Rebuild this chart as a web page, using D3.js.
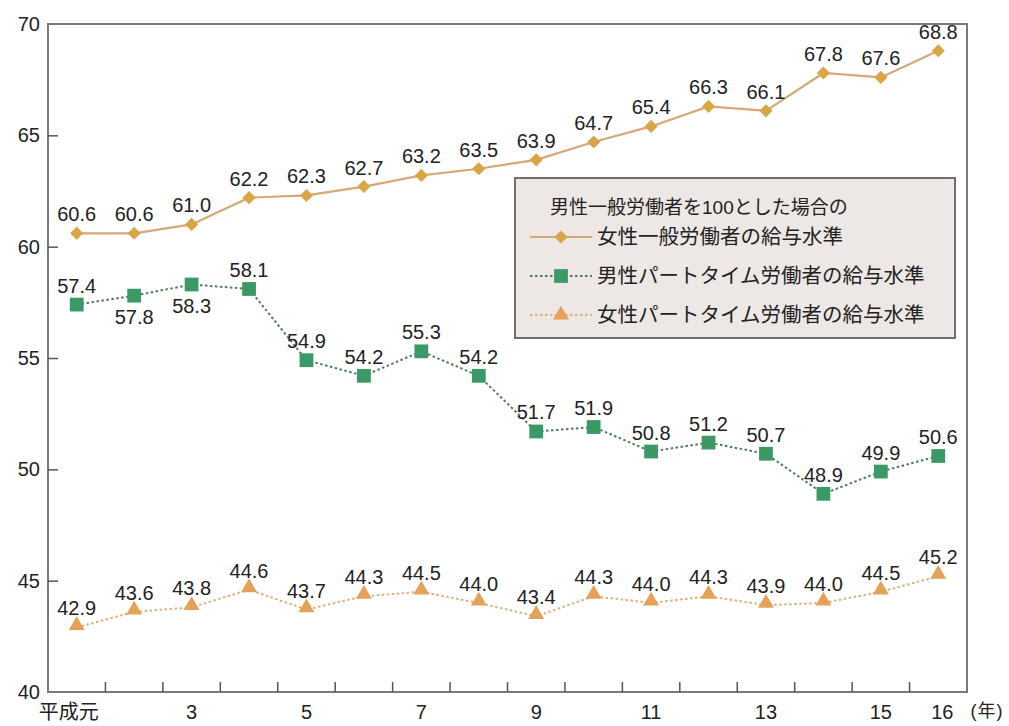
<!DOCTYPE html>
<html><head><meta charset="utf-8">
<script src="https://cdn.jsdelivr.net/npm/d3@7"></script>
<style>
body{margin:0;background:#fff;}
text{font-family:"Liberation Sans","Noto Sans CJK JP",sans-serif;fill:#222;}
</style></head>
<body>
<svg id="c" width="1009" height="726"></svg>
<script>
const categories = ["1","2","3","4","5","6","7","8","9","10","11","12","13","14","15","16"];
const xTickLabels = ["平成元","","3","","5","","7","","9","","11","","13","","15","16"];
const yTicks = [40,45,50,55,60,65,70];
const femaleGeneral = [60.6,60.6,61.0,62.2,62.3,62.7,63.2,63.5,63.9,64.7,65.4,66.3,66.1,67.8,67.6,68.8];
const malePart = [57.4,57.8,58.3,58.1,54.9,54.2,55.3,54.2,51.7,51.9,50.8,51.2,50.7,48.9,49.9,50.6];
const femalePart = [42.9,43.6,43.8,44.6,43.7,44.3,44.5,44.0,43.4,44.3,44.0,44.3,43.9,44.0,44.5,45.2];
const legendTitle = "男性一般労働者を100とした場合の";
const seriesNames = ["女性一般労働者の給与水準","男性パートタイム労働者の給与水準","女性パートタイム労働者の給与水準"];

const svg = d3.select("#c");
const L=48, R=967, T=24, B=692;
const x = d3.scaleBand().domain(categories).range([L,R]);
const y = d3.scaleLinear().domain([40,70]).range([B,T]);
const cx = c => x(c)+x.bandwidth()/2;

// frame
svg.append("rect").attr("x",L).attr("y",T).attr("width",R-L).attr("height",B-T)
  .attr("fill","none").attr("stroke","#7a7a7a").attr("stroke-width",2);

// y axis
const ya = svg.append("g").attr("transform",`translate(${L},0)`)
  .call(d3.axisRight(y).tickValues(yTicks).tickSize(10).tickFormat(""));
ya.select(".domain").remove();
ya.selectAll("line").attr("stroke","#555").attr("stroke-width",1.5);
ya.selectAll("g.tick").filter(d=>d===40||d===70).select("line").remove();
svg.append("g").selectAll("text").data(yTicks).join("text")
  .attr("x",L-8).attr("y",d=>y(d)+7).attr("text-anchor","end")
  .attr("font-size",20).text(d=>d);

// x axis ticks at band boundaries
const xa = svg.append("g").attr("transform",`translate(0,${B})`)
  .call(d3.axisTop(x).tickSize(10).tickFormat("").offset(0));
xa.select(".domain").remove();
xa.selectAll("g.tick").attr("transform",d=>`translate(${x(d)+x.bandwidth()},0)`);
xa.selectAll("g.tick").filter((d,i)=>i===categories.length-1).remove();
xa.selectAll("line").attr("stroke","#555").attr("stroke-width",1.5);
svg.append("g").selectAll("text").data(categories).join("text")
  .attr("x",(d,i)=>cx(d)+(i===0?-8:(i===15?4:0))).attr("y",B+27).attr("text-anchor","middle")
  .attr("font-size",20).text((d,i)=>xTickLabels[i]);
svg.append("text").attr("x",987).attr("y",B+25).attr("text-anchor","middle")
  .attr("font-size",18).attr("letter-spacing",1).text("(年)");

const line = d3.line().x((d,i)=>cx(categories[i])).y(d=>y(d));

// female general
svg.append("path").datum(femaleGeneral).attr("d",line).attr("fill","none")
  .attr("stroke","#d6a877").attr("stroke-width",2.2);
// male part
svg.append("path").datum(malePart).attr("d",line).attr("fill","none")
  .attr("stroke","#4f7a62").attr("stroke-width",2).attr("stroke-dasharray","2.5,2.5");
// female part
svg.append("path").datum(femalePart).attr("d",line).attr("fill","none")
  .attr("stroke","#dcb078").attr("stroke-width",2).attr("stroke-dasharray","2.5,2.5");

const diamond = d3.symbol().type(d3.symbolDiamond2).size(110);
const square = d3.symbol().type(d3.symbolSquare).size(190);
const tri = d3.symbol().type(d3.symbolTriangle).size(110);

svg.append("g").selectAll("path").data(femaleGeneral).join("path")
  .attr("d",diamond).attr("fill","#d9a545")
  .attr("transform",(d,i)=>`translate(${cx(categories[i])},${y(d)})`);
svg.append("g").selectAll("path").data(malePart).join("path")
  .attr("d",square).attr("fill","#3b9966")
  .attr("transform",(d,i)=>`translate(${cx(categories[i])},${y(d)})`);
svg.append("g").selectAll("path").data(femalePart).join("path")
  .attr("d",tri).attr("fill","#e3a257")
  .attr("transform",(d,i)=>`translate(${cx(categories[i])},${y(d)-2})`);

const fmt = d3.format(".1f");
function labels(data, below){
  svg.append("g").selectAll("text").data(data).join("text")
    .attr("x",(d,i)=>cx(categories[i]))
    .attr("y",(d,i)=>below.includes(i)? y(d)+28 : y(d)-12)
    .attr("text-anchor","middle").attr("font-size",20).text(d=>fmt(d));
}
labels(femaleGeneral,[]);
labels(malePart,[1,2]);
labels(femalePart,[]);

// legend
const lg = svg.append("g");
lg.append("rect").attr("x",515).attr("y",178).attr("width",440).attr("height",160)
  .attr("fill","#ede7e5").attr("stroke","#6f6f6f").attr("stroke-width",2);
lg.append("text").attr("x",550).attr("y",214).attr("font-size",19).text(legendTitle);
const rowsY=[237,276,315];
const rowStyles=[
  {stroke:"#d6a877",dash:null,sym:diamond,fill:"#d9a545"},
  {stroke:"#4f7a62",dash:"2.5,2.5",sym:square,fill:"#3b9966"},
  {stroke:"#dcb078",dash:"2.5,2.5",sym:tri,fill:"#e3a257"}];
rowsY.forEach((ry,k)=>{
  const s=rowStyles[k];
  lg.append("line").attr("x1",530).attr("x2",592).attr("y1",ry).attr("y2",ry)
    .attr("stroke",s.stroke).attr("stroke-width",2).attr("stroke-dasharray",s.dash);
  lg.append("path").attr("d",s.sym).attr("fill",s.fill).attr("transform",`translate(561,${ry})`);
  lg.append("text").attr("x",597).attr("y",ry+7).attr("font-size",20.5).text(seriesNames[k]);
});
</script>
</body></html>
